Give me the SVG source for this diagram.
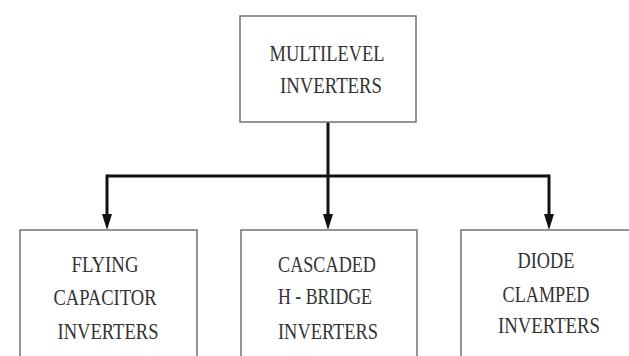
<svg xmlns="http://www.w3.org/2000/svg" width="629" height="356" viewBox="0 0 629 356">
<defs>
<style>
.box{fill:#fff;stroke:#7a7a7a;stroke-width:1.6}
.wire{fill:none;stroke:#111;stroke-width:3}
</style>
</defs>
<rect width="629" height="356" fill="#fff"/>
<g id="connectors">
<path class="wire" d="M328,122 V176"/>
<path class="wire" d="M107,176 H549"/>
<line x1="107" y1="174.5" x2="107" y2="215" class="wire"/>
<line x1="328" y1="176" x2="328" y2="215" class="wire"/>
<line x1="549" y1="174.5" x2="549" y2="215" class="wire"/>
<path d="M102,214 L112,214 L107,230 Z" fill="#111"/>
<path d="M323,214 L333,214 L328,230 Z" fill="#111"/>
<path d="M544,214 L554,214 L549,230 Z" fill="#111"/>
</g>
<g font-family="Liberation Serif, DejaVu Serif, serif" font-size="23" fill="#333" text-anchor="middle">
<g id="multilevel">
<rect class="box" x="240" y="16" width="176" height="106"/>
<text x="327" y="61" textLength="115" lengthAdjust="spacingAndGlyphs">MULTILEVEL</text>
<text x="331" y="93" textLength="102" lengthAdjust="spacingAndGlyphs">INVERTERS</text>
</g>
<g id="flying">
<rect class="box" x="20" y="230" width="177" height="140"/>
<text x="105" y="272" textLength="67" lengthAdjust="spacingAndGlyphs">FLYING</text>
<text x="105" y="305" textLength="103" lengthAdjust="spacingAndGlyphs">CAPACITOR</text>
<text x="108" y="339" textLength="101" lengthAdjust="spacingAndGlyphs">INVERTERS</text>
</g>
<g id="cascaded">
<rect class="box" x="241" y="230" width="176" height="140"/>
<text x="327" y="272" textLength="98" lengthAdjust="spacingAndGlyphs">CASCADED</text>
<text x="325" y="304" textLength="94" lengthAdjust="spacingAndGlyphs">H - BRIDGE</text>
<text x="328" y="339" textLength="100" lengthAdjust="spacingAndGlyphs">INVERTERS</text>
</g>
<g id="diode">
<rect class="box" x="461" y="230" width="190" height="140"/>
<text x="546" y="268" textLength="57" lengthAdjust="spacingAndGlyphs">DIODE</text>
<text x="546" y="302" textLength="87" lengthAdjust="spacingAndGlyphs">CLAMPED</text>
<text x="549" y="333" textLength="102" lengthAdjust="spacingAndGlyphs">INVERTERS</text>
</g>
</g>
</svg>
